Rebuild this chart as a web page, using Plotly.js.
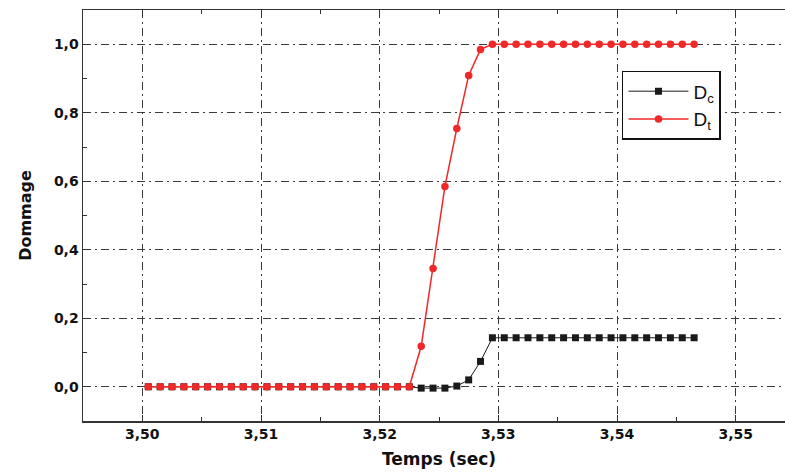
<!DOCTYPE html>
<html>
<head>
<meta charset="utf-8">
<script src="https://cdn.plot.ly/plotly-3.0.1.min.js"></script>
<style>
html,body{margin:0;padding:0;overflow:hidden;background:#fff;}
#chart{width:795px;height:475px;}
</style>
</head>
<body>
<div id="chart"></div>
<script>
// Temps (sec)
var temps = [3.5005,3.5015,3.5025,3.5035,3.5045,3.5055,3.5065,3.5075,3.5085,3.5095,
             3.5105,3.5115,3.5125,3.5135,3.5145,3.5155,3.5165,3.5175,3.5185,3.5195,
             3.5205,3.5215,3.5225,3.5235,3.5245,3.5255,3.5265,3.5275,3.5285,3.5295,
             3.5305,3.5315,3.5325,3.5335,3.5345,3.5355,3.5365,3.5375,3.5385,3.5395,
             3.5405,3.5415,3.5425,3.5435,3.5445,3.5455,3.5465];
// Dc (compression damage)
var dc = [0,0,0,0,0,0,0,0,0,0,
          0,0,0,0,0,0,0,0,0,0,
          0,0,0,-0.004,-0.004,-0.004,0.002,0.02,0.074,0.143,
          0.143,0.143,0.143,0.143,0.143,0.143,0.143,0.143,0.143,0.143,
          0.143,0.143,0.143,0.143,0.143,0.143,0.143];
// Dt (traction damage)
var dt = [0,0,0,0,0,0,0,0,0,0,
          0,0,0,0,0,0,0,0,0,0,
          0,0,0,0.118,0.345,0.585,0.754,0.909,0.985,1.0,
          1.0,1.0,1.0,1.0,1.0,1.0,1.0,1.0,1.0,1.0,
          1.0,1.0,1.0,1.0,1.0,1.0,1.0];
var xTicks = [3.50,3.51,3.52,3.53,3.54,3.55];
var xTickText = ['3,50','3,51','3,52','3,53','3,54','3,55'];
var yTicks = [0.0,0.2,0.4,0.6,0.8,1.0];
var yTickText = ['0,0','0,2','0,4','0,6','0,8','1,0'];
var seriesNames = ['D<sub>c</sub>','D<sub>t</sub>'];

var traces = [
  {x: temps, y: dc, name: seriesNames[0], type: 'scatter', mode: 'lines+markers',
   line: {color: '#1a1a1a', width: 1},
   marker: {symbol: 'square', size: 7, color: '#1a1a1a'}},
  {x: temps, y: dt, name: seriesNames[1], type: 'scatter', mode: 'lines+markers',
   line: {color: '#f02828', width: 1.5},
   marker: {symbol: 'circle', size: 7.5, color: '#f02828'}}
];

var fontL = 'Liberation Sans, Arial, sans-serif';
var fontH = 'DejaVu Sans, Liberation Sans, sans-serif';

var axisCommon = {
  showgrid: true, zeroline: false,
  gridcolor: '#3a3a3a', gridwidth: 1, griddash: '8px,4px,2px,4px',
  showline: true, linecolor: '#333', linewidth: 1.5, mirror: 'ticks',
  ticks: 'inside', ticklen: 6, tickcolor: '#333',
  tickmode: 'array'
};

var layout = {
  width: 795, height: 475,
  margin: {l: 83, r: 0, t: 10, b: 54},
  paper_bgcolor: '#fff', plot_bgcolor: '#fff',
  font: {family: fontH, size: 14, color: '#111', weight: 'bold'},
  showlegend: true,
  legend: {
    x: 0.757, y: 0.852, xanchor: 'left', yanchor: 'top',
    bordercolor: '#111', borderwidth: 1.5, bgcolor: '#fff',
    font: {family: fontL, size: 19, color: '#111', weight: 'normal'},
    itemwidth: 60, tracegroupgap: 0
  },
  xaxis: Object.assign({}, axisCommon, {
    range: [3.495, 3.555],
    tickvals: xTicks, ticktext: xTickText,
    minor: {dtick: 0.005, tick0: 3.495, ticks: 'inside', ticklen: 4, tickcolor: '#333', showgrid: false},
    title: {text: 'Temps (sec)', font: {family: fontH, size: 17, color: '#111', weight: 'bold'}, standoff: 12}
  }),
  yaxis: Object.assign({}, axisCommon, {
    range: [-0.1, 1.1],
    tickvals: yTicks, ticktext: yTickText,
    minor: {dtick: 0.1, tick0: 0, ticks: 'inside', ticklen: 4, tickcolor: '#333', showgrid: false},
    title: {text: 'Dommage', font: {family: fontH, size: 16, color: '#111', weight: 'bold'}, standoff: 18}
  })
};

Plotly.newPlot('chart', traces, layout, {displayModeBar: false, staticPlot: true});
</script>
</body>
</html>
